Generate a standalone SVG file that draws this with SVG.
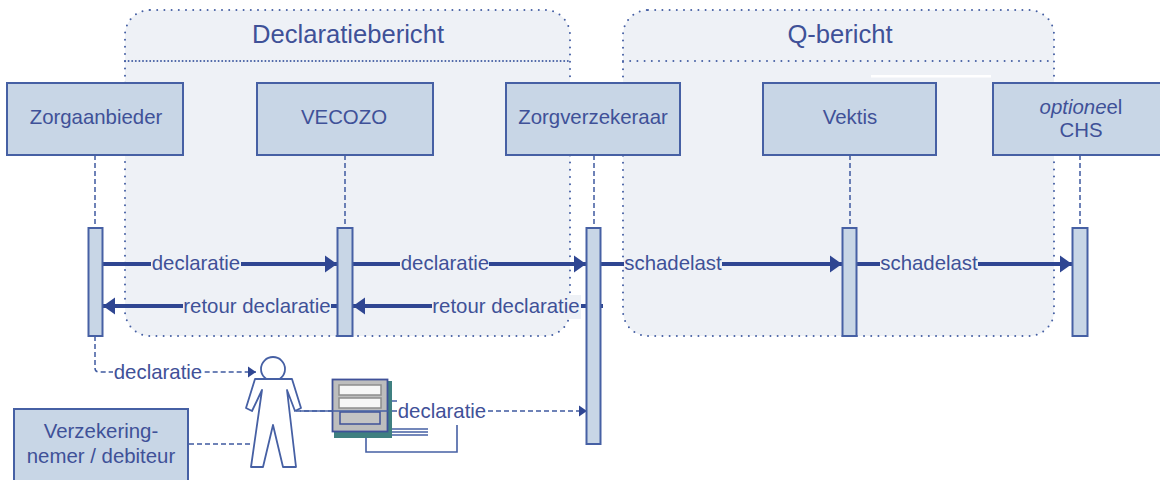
<svg xmlns="http://www.w3.org/2000/svg" width="1160" height="480" viewBox="0 0 1160 480">
<defs>
<style>
text{font-family:"Liberation Sans",Arial,sans-serif;fill:#3f5198;text-anchor:middle}
.t{font-size:20.4px}
.h{font-size:25.6px}
.box{fill:#c8d6e6;stroke:#4660a4;stroke-width:2}
.grp{fill:#eef1f6}
.dot{fill:none;stroke:#4660a4;stroke-width:2;stroke-linecap:round;stroke-dasharray:0 7.2}
.dense{stroke-dasharray:0 3.6}
.solid{fill:none;stroke:#2f4692;stroke-width:4}
.dash{fill:none;stroke:#3f5aa0;stroke-width:1.5;stroke-dasharray:5 3}
.thin{fill:none;stroke:#4660a4;stroke-width:1.6}
.lb{fill:#eef1f6}
.lw{fill:#fff}
</style>
<marker id="big" markerUnits="userSpaceOnUse" markerWidth="14" markerHeight="18" refX="12" refY="9" orient="auto"><path d="M0 0.500L12 9L0 17.500z" fill="#2f4692"/></marker>
<marker id="small" markerUnits="userSpaceOnUse" markerWidth="9" markerHeight="12" refX="8" refY="6" orient="auto"><path d="M0 0.500L8 6L0 11.500z" fill="#2f4692"/></marker>
</defs>
<g id="group-declaratiebericht">
<rect class="grp" x="125" y="10" width="445" height="326" rx="25"/>
<rect class="dot" x="125" y="10" width="445" height="326" rx="25"/>
<path class="dot dense" d="M125 61H570"/>
<text class="h" x="348" y="43">Declaratiebericht</text>
</g>
<g id="group-q-bericht">
<rect class="grp" x="623" y="10" width="431" height="326" rx="25"/>
<rect class="dot" x="623" y="10" width="431" height="326" rx="25"/>
<path class="dot" d="M623 61H1054"/>
<text class="h" x="840" y="43">Q-bericht</text>
<rect x="871" y="75" width="120" height="2.500" fill="#fff"/>
</g>
<g id="connectors">
<path class="dash" d="M95 155V228M345 155V228M594 155V228M850 155V228M1080 155V228"/>
<path class="dash" d="M95 336V368Q95 372 99 372H256" marker-end="url(#small)"/>
<path class="dash" d="M189 444H252"/>
<path class="dash" d="M296 411H587" marker-end="url(#small)"/>
<path class="solid" d="M102 264H337" marker-end="url(#big)"/>
<path class="solid" d="M352 264H586" marker-end="url(#big)"/>
<path class="solid" d="M601 264H842" marker-end="url(#big)"/>
<path class="solid" d="M857 264H1072" marker-end="url(#big)"/>
<path class="solid" d="M337 306H103" marker-end="url(#big)"/>
<path class="solid" d="M603 306H353" marker-end="url(#big)"/>
</g>
<g id="node-zorgaanbieder"><rect class="box" x="7" y="83" width="176" height="72"/><text class="t" x="96" y="124">Zorgaanbieder</text></g>
<g id="node-vecozo"><rect class="box" x="257" y="83" width="176" height="72"/><text class="t" x="344" y="124">VECOZO</text></g>
<g id="node-zorgverzekeraar"><rect class="box" x="506" y="83" width="174" height="72"/><text class="t" x="593" y="124">Zorgverzekeraar</text></g>
<g id="node-vektis"><rect class="box" x="763" y="83" width="173" height="72"/><text class="t" x="850" y="124">Vektis</text></g>
<g id="node-chs"><rect class="box" x="993" y="83" width="175" height="72"/><text class="t" x="1081" y="114"><tspan font-style="italic">optione</tspan>el</text><text class="t" x="1081" y="137">CHS</text></g>
<g id="bar-zorgaanbieder"><rect class="box" x="88.500" y="228" width="14" height="108"/></g>
<g id="bar-vecozo"><rect class="box" x="337.500" y="228" width="15" height="108"/></g>
<g id="bar-zorgverzekeraar"><rect class="box" x="586.500" y="228" width="14" height="216"/></g>
<g id="bar-vektis"><rect class="box" x="842.500" y="228" width="14" height="108"/></g>
<g id="bar-chs"><rect class="box" x="1072.500" y="228" width="15" height="108"/></g>
<g id="labels">
<rect class="lb" x="151" y="252" width="90" height="24"/><text class="t" x="196" y="270">declaratie</text>
<rect class="lb" x="400" y="252" width="89" height="24"/><text class="t" x="445" y="270">declaratie</text>
<rect class="lb" x="624" y="252" width="98" height="24"/><text class="t" x="673" y="270">schadelast</text>
<rect class="lb" x="880" y="252" width="98" height="24"/><text class="t" x="929" y="270">schadelast</text>
<rect class="lb" x="183" y="295" width="148" height="24"/><text class="t" x="257" y="313">retour declaratie</text>
<rect class="lb" x="432" y="295" width="149" height="24"/><text class="t" x="506" y="313">retour declaratie</text>
<rect class="lw" x="113" y="361" width="90" height="22"/><text class="t" x="158" y="379">declaratie</text>
</g>
<g id="node-verzekeringnemer"><path class="box" d="M14 480V409H188V480"/><text class="t" x="101" y="438">Verzekering-</text><text class="t" x="101" y="463">nemer / debiteur</text></g>
<g id="actor">
<circle cx="273" cy="369" r="12" fill="#fff" stroke="#4660a4" stroke-width="1.800"/>
<path d="M255 379H292L301 408L295 411L287 390L296 467H283L273 425L263 467H251L262 390L252 411L246 408Z" fill="#fff" stroke="#4660a4" stroke-width="1.800" stroke-linejoin="round"/>
</g>
<g id="computer">
<rect x="334" y="381" width="58" height="57" fill="#3f8080"/>
<rect x="332.500" y="379.500" width="55" height="52" fill="#bdbdbd" stroke="#3f5198" stroke-width="1.800"/>
<rect x="339" y="385" width="42" height="10" fill="#f6f6f6" stroke="#8d8d8d" stroke-width="1.500"/>
<rect x="339" y="398" width="42" height="10" fill="#f6f6f6" stroke="#8d8d8d" stroke-width="1.500"/>
<rect x="340" y="412" width="40" height="12" fill="#c4c4c4" stroke="#3f5198" stroke-width="1.500"/>
<path class="thin" d="M300 411H388"/>
<path class="thin" d="M392 401H397M392 429H428M392 432H428M392 435H428M366 438V452H457V425"/>
</g>
<g id="label-computer"><rect class="lw" x="398" y="401" width="89" height="22"/><text class="t" x="442" y="418">declaratie</text></g>
</svg>
